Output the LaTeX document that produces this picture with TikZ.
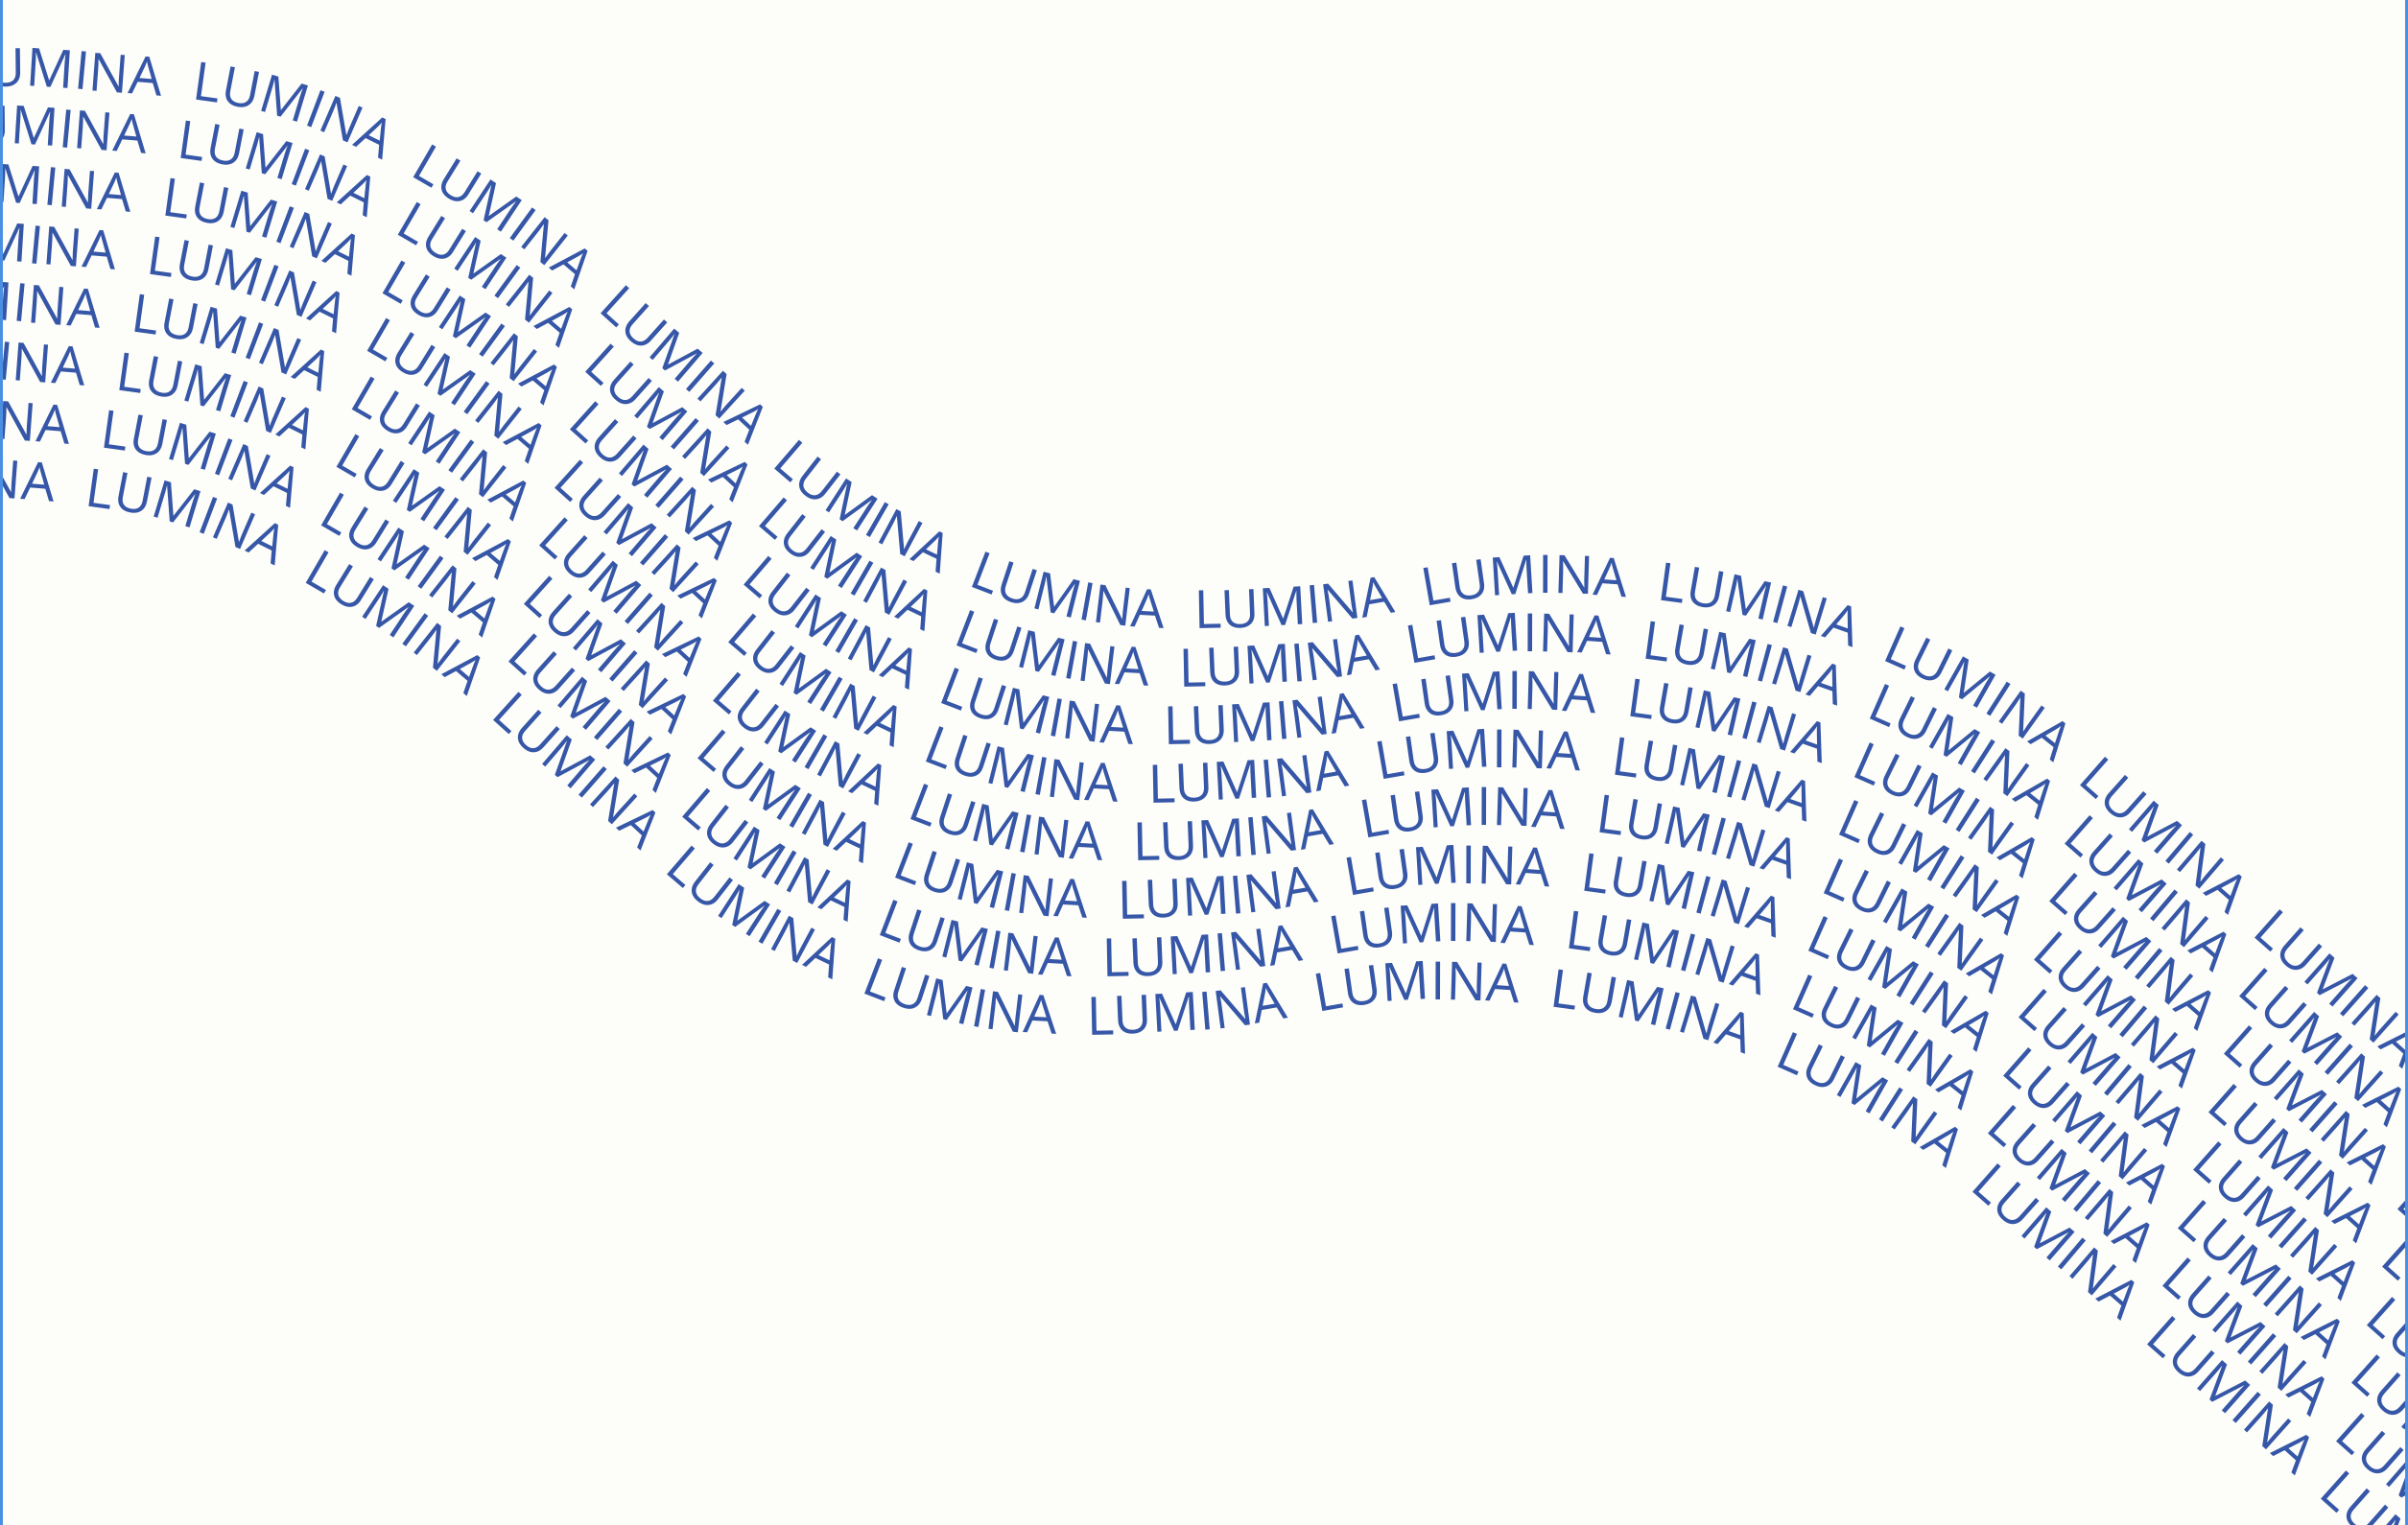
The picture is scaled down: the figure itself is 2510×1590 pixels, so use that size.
\documentclass[tikz,border=0pt]{standalone}
\usepackage{fontspec}
\usetikzlibrary{decorations.text}
\newfontfamily\lumfont{Open Sans}[LetterSpace=3.8,WordSpace=1.92]
\definecolor{textblue}{RGB}{54,87,168}
\definecolor{frameblue}{RGB}{74,144,226}
\definecolor{paper}{RGB}{253,253,249}
\tikzset{
  wavetext/.style={decorate, decoration={text along path, text align=left, text color=textblue,
    text={|\lumfont\fontsize{6.28pt}{8pt}\selectfont|LUMINA LUMINA LUMINA LUMINA LUMINA LUMINA LUMINA LUMINA LUMINA LUMINA LUMINA LUMINA LUMINA}}},
  frameline/.style={draw=frameblue, line width=0.12mm}
}
\begin{document}
\begin{tikzpicture}[x=0.004cm,y=-0.004cm]
\fill[paper] (0,0) rectangle (2510,1590);
\useasboundingbox (0,0) rectangle (2510,1590);
\begin{scope}
\clip (3,0) rectangle (2507,1590);
\foreach \i in {0,...,7}{
  \path[wavetext, shift={(-16*\i,60.5*\i)}]
    (-42,90) .. controls (-2,91) and (22.8,87.3) .. (78,93)
    .. controls (133.2,98.7) and (226.3,100.2) .. (299,124)
    .. controls (371.7,147.8) and (446.8,191) .. (514,236)
    .. controls (581.2,281) and (639.8,341.8) .. (702,394)
    .. controls (764.2,446.2) and (818.2,507.3) .. (887,549)
    .. controls (955.8,590.7) and (1036.7,627) .. (1115,644)
    .. controls (1193.3,661) and (1276.2,655.2) .. (1357,651)
    .. controls (1437.8,646.8) and (1519.3,619.7) .. (1600,619)
    .. controls (1680.7,618.3) and (1764.2,627.2) .. (1841,647)
    .. controls (1917.8,666.8) and (1992.7,697.2) .. (2061,738)
    .. controls (2129.3,778.8) and (2190,840.7) .. (2251,892)
    .. controls (2312,943.3) and (2368.8,994.7) .. (2427,1046)
    .. controls (2485.2,1097.3) and (2537.8,1146) .. (2600,1200)
    .. controls (2662.2,1254) and (2733.3,1313.3) .. (2800,1370)
    .. controls (2866.7,1426.7) and (2933.3,1483.3) .. (3000,1540);
}
\end{scope}
\draw[frameline] (1.5,0) coordinate (fl1) -- (1.5,1590) coordinate (fl2);
\draw[frameline] (2508.5,0) coordinate (fr1) -- (2508.5,1590) coordinate (fr2);
\end{tikzpicture}
\end{document}
